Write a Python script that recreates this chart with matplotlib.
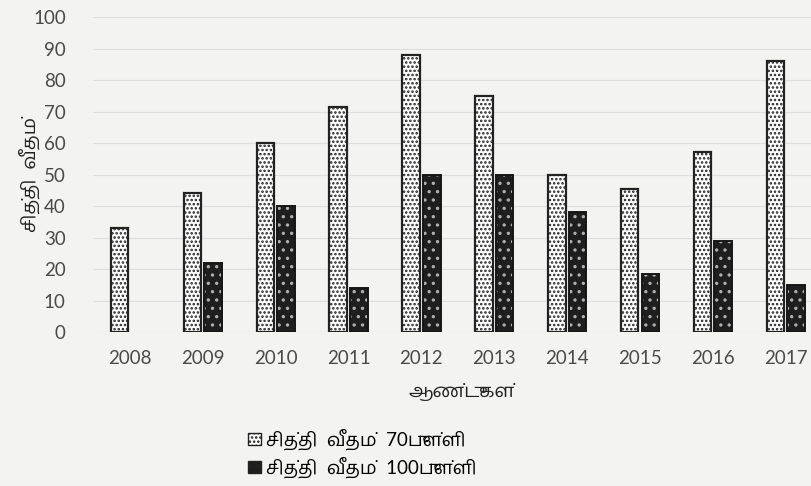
import matplotlib
matplotlib.use("Agg")
import numpy as np
import matplotlib.pyplot as plt
from matplotlib import font_manager
from matplotlib.patches import Patch

years = ["2008", "2009", "2010", "2011", "2012", "2013", "2014", "2015", "2016", "2017"]
pass_70 = [33, 44, 60, 71.5, 88, 75, 50, 45.5, 57, 86]
pass_100 = [np.nan, 22, 40, 14, 50, 50, 38, 18.5, 29, 15]
label_70 = "சித்தி  வீதம்  70புள்ளி"
label_100 = "சித்தி  வீதம்  100புள்ளி"
x_title = "ஆண்டுகள்"
y_title = "சித்தி  வீதம்"


def tamil_family():
    # prefer fonts whose Tamil marks have zero advance (no shaping in matplotlib)
    paths = font_manager.findSystemFonts()
    for want in ("HindMadurai-Regular", "NotoSansTamilUI", "NotoSansTamil", "TiroTamil-Regular"):
        for p in paths:
            if want in p:
                return font_manager.FontProperties(fname=p).get_name()
    return None


fams = ["Lato"]
tf = tamil_family()
if tf:
    fams.append(tf)
fams.append("DejaVu Sans")
plt.rcParams["font.family"] = fams
plt.rcParams["hatch.linewidth"] = 1.2

bg = "#f3f3f1"
fig = plt.figure(figsize=(8.12, 4.86), dpi=100, facecolor=bg)
ax = fig.add_axes([93.5 / 812, 154 / 486, (812 - 93.5) / 812, 315 / 486], facecolor=bg)

x = np.arange(len(years))
w = 0.24
off = 0.142

ax.bar(x - off, pass_70, w, facecolor="white", edgecolor="#222222", hatch="....", linewidth=1.6, zorder=3)
ax.bar(x + off, pass_100, w, facecolor="#1e1e1e", edgecolor="#b0b0b0", hatch="..", linewidth=0, zorder=3)
ax.bar(x + off, pass_100, w, fill=False, edgecolor="#161616", linewidth=1.4, zorder=4)

ax.set_xlim(-0.5, 9.36)
ax.set_ylim(0, 100)
ax.set_yticks(range(0, 101, 10))
ax.set_xticks(x)
ax.set_xticklabels(years)
ax.tick_params(axis="both", length=0, labelsize=13.5, colors="#4a4a4a")
ax.tick_params(axis="y", pad=20)
ax.tick_params(axis="x", pad=13)
ax.grid(axis="y", color="#dedede", linewidth=0.8, zorder=0)
for s in ax.spines.values():
    s.set_visible(False)

ax.set_xlabel(x_title, fontsize=14, color="#222222")
ax.set_ylabel(y_title, fontsize=14, color="#222222")
ax.xaxis.set_label_coords(0.513, -0.163)
ax.yaxis.set_label_coords(-0.074, 0.5)

handles = [
    Patch(facecolor="white", edgecolor="#222222", hatch="....", linewidth=1.0),
    Patch(facecolor="#1e1e1e", edgecolor="#222222", hatch="..", linewidth=1.0),
]
fig.legend(handles, [label_70, label_100], loc="upper left",
           bbox_to_anchor=(241 / 812, 1 - 421 / 486), frameon=False,
           fontsize=13.5, handlelength=0.65, handleheight=0.65, handletextpad=0.3,
           labelspacing=0.35, borderaxespad=0)

fig.savefig("out.png", dpi=100, facecolor=bg)
